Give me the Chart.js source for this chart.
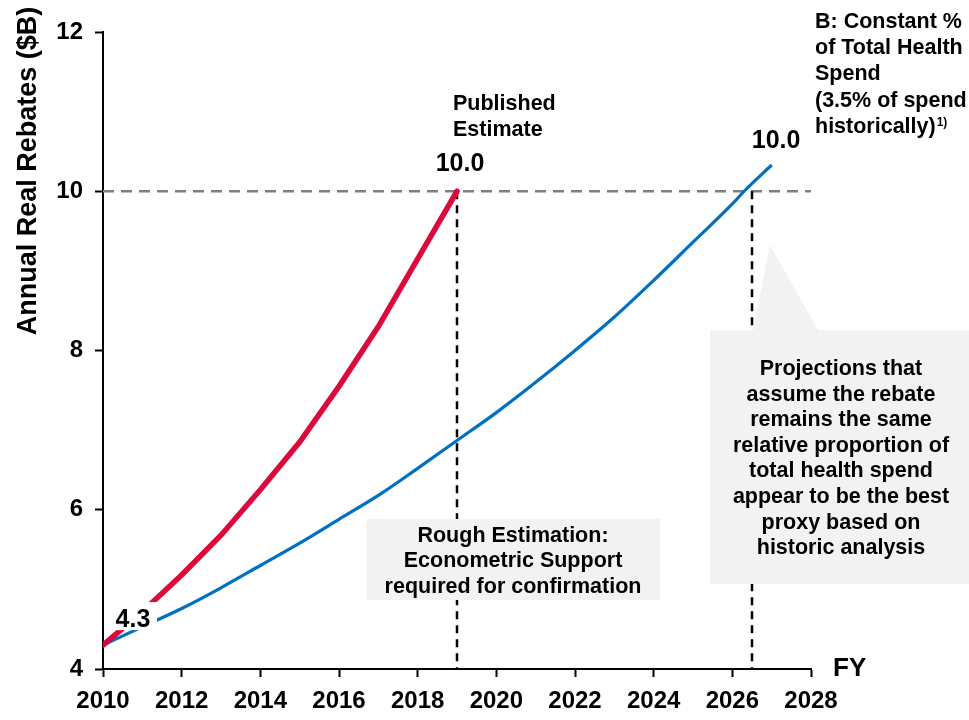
<!DOCTYPE html>
<html>
<head>
<meta charset="utf-8">
<script src="https://cdn.jsdelivr.net/npm/chart.js@4.4.1/dist/chart.umd.min.js"></script>
<style>
  html, body { margin: 0; padding: 0; background: #fff; }
  canvas { display: block; }
</style>
</head>
<body>
<canvas id="rebateChart" width="969" height="720"></canvas>
<script>
// published estimate (red) and constant-share projection (blue)
const publishedYears = [2010, 2011, 2012, 2013, 2014, 2015, 2016, 2017, 2018, 2019];
const publishedValues = [4.3, 4.72, 5.18, 5.68, 6.25, 6.85, 7.55, 8.3, 9.15, 10.0];

const constantYears = [2010, 2011, 2012, 2013, 2014, 2015, 2016, 2017, 2018, 2019,
                       2020, 2021, 2022, 2023, 2024, 2025, 2026, 2026.3, 2027];
const constantValues = [4.3, 4.53, 4.76, 5.02, 5.3, 5.58, 5.88, 6.18, 6.52, 6.87,
                        7.22, 7.6, 8.0, 8.42, 8.88, 9.36, 9.84, 10.0, 10.33];

const xTicks = [2010, 2012, 2014, 2016, 2018, 2020, 2022, 2024, 2026, 2028];
const yTicks = [4, 6, 8, 10, 12];

const targetValue = 10;
const markerYears = [2019, 2026.5];

const FONT = '"Liberation Sans", Arial, sans-serif';

function toPoints(xs, ys) {
    return xs.map((x, i) => ({ x: x, y: ys[i] }));
}

function dashed(ctx, x1, y1, x2, y2) {
    ctx.beginPath();
    ctx.moveTo(x1, y1);
    ctx.lineTo(x2, y2);
    ctx.stroke();
}

function textLines(ctx, lines, x, y, step) {
    lines.forEach((t, i) => ctx.fillText(t, x, y + i * step));
}

// reference lines, grey notes and labels
const overlay = {
    id: 'overlay',
    beforeDatasetsDraw(chart) {
        const { ctx, chartArea: a, scales: { x, y } } = chart;
        const yTarget = y.getPixelForValue(targetValue);
        ctx.save();

        ctx.strokeStyle = '#7f7f7f';
        ctx.lineWidth = 2.5;
        ctx.setLineDash([11, 7]);
        dashed(ctx, a.left, yTarget, a.right, yTarget);

        ctx.strokeStyle = '#000';
        ctx.lineWidth = 2.5;
        ctx.setLineDash([8, 6]);
        markerYears.forEach(yr => {
            const px = x.getPixelForValue(yr);
            dashed(ctx, px, yTarget, px, a.bottom);
        });
        ctx.setLineDash([]);

        ctx.fillStyle = '#f2f2f2';
        ctx.fillRect(367, 519, 293, 81);

        // callout with its pointer
        ctx.beginPath();
        ctx.moveTo(710, 330);
        ctx.lineTo(753, 330);
        ctx.lineTo(770, 245);
        ctx.lineTo(818, 330);
        ctx.lineTo(969, 330);
        ctx.lineTo(969, 584);
        ctx.lineTo(710, 584);
        ctx.closePath();
        ctx.fill();

        ctx.fillStyle = '#000';
        ctx.font = 'bold 21.5px ' + FONT;
        ctx.textAlign = 'center';
        ctx.textBaseline = 'middle';
        textLines(ctx, ['Rough Estimation:', 'Econometric Support', 'required for confirmation'], 513, 536, 25.5);
        textLines(ctx, ['Projections that', 'assume the rebate', 'remains the same',
                        'relative proportion of', 'total health spend', 'appear to be the best',
                        'proxy based on', 'historic analysis'], 841, 369, 25.6);
        ctx.restore();
    },
    afterDatasetsDraw(chart) {
        const { ctx } = chart;
        const red = chart.getDatasetMeta(0).data;
        const blue = chart.getDatasetMeta(1).data;
        ctx.save();
        ctx.fillStyle = '#000';
        ctx.textBaseline = 'alphabetic';
        ctx.textAlign = 'center';
        ctx.font = 'bold 25px ' + FONT;

        // start value with white backing
        const start = blue[0];
        ctx.fillStyle = '#fff';
        ctx.fillRect(start.x + 9, start.y - 43, 45, 28);
        ctx.fillStyle = '#000';
        ctx.fillText(constantValues[0].toFixed(1), start.x + 30, start.y - 18);

        const redEnd = red[publishedValues.length - 1];
        ctx.fillText(publishedValues[publishedValues.length - 1].toFixed(1), redEnd.x + 3, redEnd.y - 20);

        const hit = constantValues.indexOf(targetValue);
        ctx.fillText(constantValues[hit].toFixed(1), blue[hit].x + 32, blue[hit].y - 43);

        ctx.textAlign = 'left';
        ctx.font = 'bold 21.5px ' + FONT;
        textLines(ctx, ['Published', 'Estimate'], 453, 110, 26.2);
        textLines(ctx, ['B: Constant %', 'of Total Health', 'Spend', '(3.5% of spend', 'historically)'], 815, 28, 26.2);
        const w = ctx.measureText('historically)').width;
        ctx.font = 'bold 12px ' + FONT;
        ctx.fillText('1)', 815 + w + 1, 126);

        ctx.font = 'bold 26px ' + FONT;
        ctx.textBaseline = 'middle';
        ctx.fillText('FY', 833, 669);

        // y axis title
        ctx.font = 'bold 27px ' + FONT;
        ctx.translate(29, 171);
        ctx.rotate(-Math.PI / 2);
        ctx.textAlign = 'center';
        ctx.fillText('Annual Real Rebates ($B)', 0, 0);
        ctx.restore();
    }
};

const axisLine = {
    drawOnChartArea: false,
    drawTicks: true,
    tickLength: 8,
    tickWidth: 2,
    tickColor: '#000'
};

new Chart(
    document.getElementById('rebateChart'),
    {
        type: 'line',
        data: {
            datasets: [{
                label: 'Published Estimate',
                data: toPoints(publishedYears, publishedValues),
                borderColor: '#dc0a3c',
                borderWidth: 5.5,
                pointRadius: 0,
                tension: 0,
                borderCapStyle: 'round'
            },
            {
                label: 'B: Constant % of Total Health Spend',
                data: toPoints(constantYears, constantValues),
                borderColor: '#0070c0',
                borderWidth: 3.2,
                pointRadius: 0,
                cubicInterpolationMode: 'monotone'
            }]
        },
        options: {
            responsive: false,
            animation: false,
            layout: {
                padding: { top: 32, right: 158, left: 0, bottom: 0 }
            },
            plugins: {
                legend: { display: false },
                tooltip: { enabled: false }
            },
            scales: {
                x: {
                    type: 'linear',
                    min: 2010,
                    max: 2028,
                    afterBuildTicks: scale => { scale.ticks = xTicks.map(v => ({ value: v })); },
                    afterFit: scale => { scale.height = 51; },
                    ticks: {
                        color: '#000',
                        padding: 10,
                        maxRotation: 0,
                        font: { family: FONT, size: 24, weight: 'bold' },
                        callback: v => String(v)
                    },
                    grid: axisLine,
                    border: { color: '#000', width: 2 }
                },
                y: {
                    min: 4,
                    max: 12,
                    afterBuildTicks: scale => { scale.ticks = yTicks.map(v => ({ value: v })); },
                    afterFit: scale => { scale.width = 103; },
                    ticks: {
                        color: '#000',
                        padding: 12,
                        font: { family: FONT, size: 24, weight: 'bold' },
                        callback: v => String(v)
                    },
                    grid: axisLine,
                    border: { color: '#000', width: 2 }
                }
            }
        },
        plugins: [overlay]
    }
);
</script>
</body>
</html>
